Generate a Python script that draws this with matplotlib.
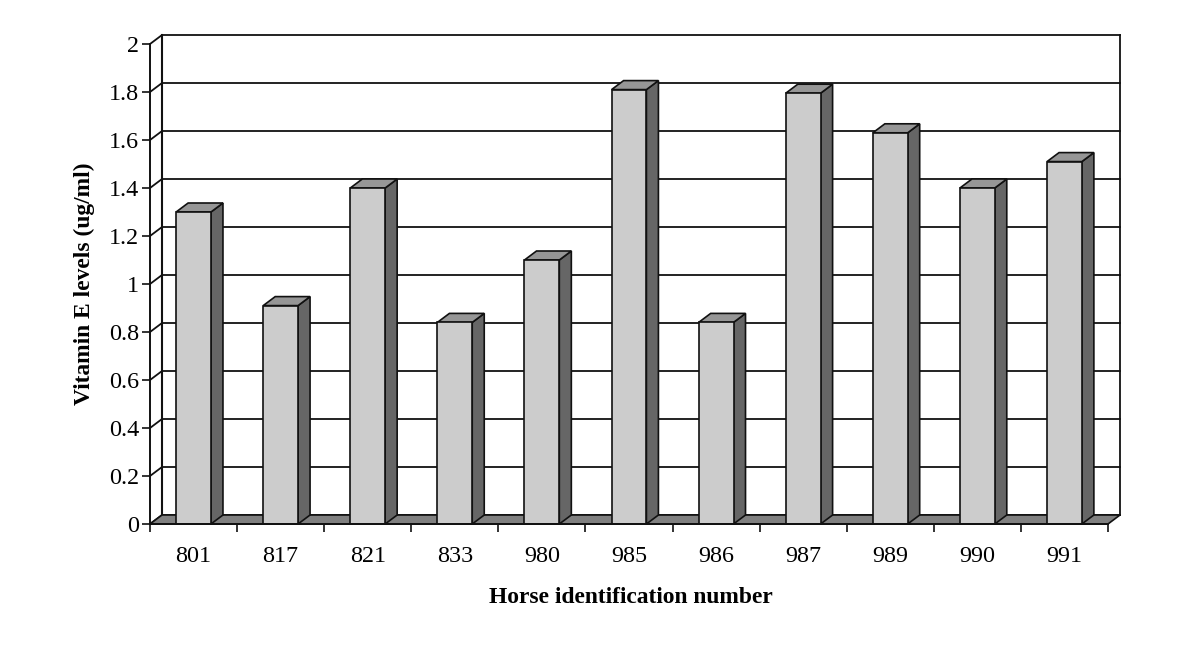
import numpy as np
import matplotlib
matplotlib.use('Agg')
import matplotlib.pyplot as plt
from matplotlib.patches import Polygon

plt.rcParams['font.family'] = ['Liberation Serif', 'DejaVu Serif']

horses = ['801', '817', '821', '833', '980', '985', '986', '987', '989', '990', '991']
vitamin_e = [1.30, 0.91, 1.40, 0.84, 1.10, 1.81, 0.84, 1.795, 1.63, 1.40, 1.51]
yticks = [0, 0.2, 0.4, 0.6, 0.8, 1, 1.2, 1.4, 1.6, 1.8, 2]
ytick_labels = ['0', '0.2', '0.4', '0.6', '0.8', '1', '1.2', '1.4', '1.6', '1.8', '2']

W, H = 1200, 651
fig = plt.figure(figsize=(W / 100, H / 100), dpi=100)
ax = fig.add_axes([150 / W, 1 - 524 / H, 958 / W, 480 / H])

n = len(horses)
ax.set_xlim(0, n)
ax.set_ylim(0, 2)

# 3d look: depth offset in data units
dx = 12 / (958 / n)
dy = 9 / 240
bar_w = 0.40
edge = '#111111'

# back wall and grid
for t in yticks:
    ax.plot([0, dx, n + dx], [t, t + dy, t + dy], color=edge, lw=1.3, clip_on=False, zorder=1)
ax.plot([dx, dx], [dy, 2 + dy], color=edge, lw=1.5, clip_on=False, zorder=1)
ax.plot([n + dx, n + dx], [dy, 2 + dy], color=edge, lw=1.3, clip_on=False, zorder=1)

# floor
ax.add_patch(Polygon([(0, 0), (dx, dy), (n + dx, dy), (n, 0)], closed=True, fc='#808080',
                     ec=edge, lw=1.2, clip_on=False, zorder=2))

# bars
x = np.arange(n) + 0.5
ax.bar(x, vitamin_e, width=bar_w, color='#cccccc', edgecolor=edge, linewidth=1.2, zorder=4)
for xi, v in zip(x, vitamin_e):
    l, r = xi - bar_w / 2, xi + bar_w / 2
    ax.add_patch(Polygon([(r, 0), (r + dx, dy), (r + dx, v + dy), (r, v)], closed=True,
                         fc='#666666', ec=edge, lw=1.2, clip_on=False, zorder=3))
    ax.add_patch(Polygon([(l, v), (l + dx, v + dy), (r + dx, v + dy), (r, v)], closed=True,
                         fc='#969696', ec=edge, lw=1.2, clip_on=False, zorder=3))

for s in ['top', 'right']:
    ax.spines[s].set_visible(False)
for s in ['left', 'bottom']:
    ax.spines[s].set_linewidth(1.4)
    ax.spines[s].set_color(edge)
    ax.spines[s].set_zorder(5)

ax.set_yticks(yticks)
ax.set_yticklabels(ytick_labels, fontsize=17.4)
ax.set_xticks(np.arange(n + 1))
ax.set_xticklabels([])
ax.set_xticks(x, minor=True)
ax.set_xticklabels(horses, minor=True, fontsize=17.4)
ax.tick_params(axis='x', which='major', length=6, width=1.2, color=edge)
ax.tick_params(axis='x', which='minor', length=0, pad=16)
ax.tick_params(axis='y', length=6, width=1.2, color=edge, pad=2)

ax.set_xlabel('Horse identification number', fontsize=16.9, fontweight='bold', labelpad=14, x=0.502)
ax.set_ylabel('Vitamin E levels (ug/ml)', fontsize=16.9, fontweight='bold', labelpad=10, y=0.5)

fig.savefig('out.png', dpi=100)
